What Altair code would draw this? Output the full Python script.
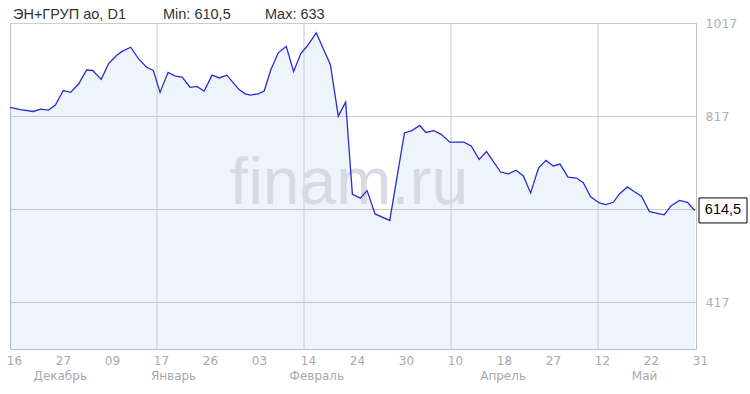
import altair as alt
import pandas as pd

# trading-day position (axis units) and closing price
day = [0, 1.7, 3.8, 5.0, 6.3, 7.4, 8.7, 9.9, 11.2, 12.5,
       13.5, 14.9, 16.1, 17.4, 18.3, 19.7, 21.0, 22.3, 23.4, 24.5,
       25.8, 27.0, 28.1, 29.4, 30.5, 31.7, 33.0, 34.2, 35.4, 36.5,
       37.4, 38.4, 39.2, 40.5, 41.5, 42.6, 43.8, 45.1, 46.3, 47.5,
       48.5, 50.0, 51.2, 52.3, 53.6, 54.8, 55.9, 57.2, 58.3, 59.6,
       62.0, 64.4, 65.6, 66.9, 67.9, 69.2, 70.4, 71.8, 74.1, 75.3,
       76.6, 77.8, 80.1, 81.4, 82.6, 83.8, 85.0, 86.3, 87.5, 88.7,
       89.8, 91.1, 92.5, 93.6, 94.8, 96.3, 97.3, 98.5, 99.5, 100.8,
       102.0, 103.1, 104.4, 106.8, 107.9, 109.3, 110.6, 111.8]
price = [836, 831, 827, 832, 830, 841, 872, 868, 886, 916,
         915, 896, 930, 947, 956, 965, 940, 922, 915, 868,
         911, 903, 901, 879, 881, 871, 905, 899, 905, 888,
         874, 865, 862, 865, 871, 917, 953, 967, 913, 952,
         967, 996, 960, 928, 817, 847, 649, 641, 657, 607,
         593, 781, 786, 797, 782, 786, 778, 761, 761, 753,
         724, 741, 697, 693, 701, 689, 652, 706, 722, 710,
         714, 686, 684, 674, 644, 630, 627, 632, 650, 665,
         654, 645, 612, 605, 624, 636, 632, 614.5]

tick_days = [0, 8, 16, 24, 32, 40, 48, 56, 64, 72, 80, 88, 96, 104, 112]
tick_labels = ["16", "27", "09", "17", "26", "03", "14", "24", "30",
               "10", "18", "27", "12", "22", "31"]
grid_days = [24, 48, 72, 96]
months = ["Декабрь", "Январь", "Февраль", "Апрель", "Май"]
month_pos = [8.2, 26.7, 50.1, 80.5, 103.6]
y_ticks = [417, 617, 817, 1017]
title_name = "ЭН+ГРУП ао, D1"
title_min = "Min: 610,5"
title_max = "Max: 633"
last_label = "614,5"

df = pd.DataFrame({"day": day, "price": price})
grid_df = pd.DataFrame({"day": grid_days})
month_df = pd.DataFrame({"name": months, "pos": month_pos})
last_df = pd.DataFrame({"price": [price[-1]], "label": [last_label]})

label_map = "[" + ",".join("'%s'" % t for t in tick_labels) + "]"

x_scale = alt.Scale(domain=[0, 112], nice=False, zero=False)
y_scale = alt.Scale(domain=[317, 1017], nice=False, zero=False)

x_enc = alt.X("day:Q", scale=x_scale, title=None,
              axis=alt.Axis(values=tick_days,
                            labelExpr=label_map + "[round(datum.value/8)]",
                            grid=False, ticks=False, domain=False,
                            labelFont="DejaVu Sans", labelFontSize=12,
                            labelColor="#a9a9a9", labelPadding=6,
                            labelFlush=False, labelOffset=4,
                            labelOverlap=False, labelBound=False))
y_enc = alt.Y("price:Q", scale=y_scale, title=None,
              axis=alt.Axis(orient="right", values=y_ticks,
                            labelExpr="datum.value == 617 ? '' : datum.label",
                            format="d", grid=True, gridColor="#cdcdcd",
                            ticks=False, domain=False,
                            labelFont="DejaVu Sans", labelFontSize=12.5,
                            labelColor="#b0b0b0", labelPadding=9,
                            labelAlign="left", labelBaseline="middle"))

base = alt.Chart(df)

area = base.mark_area(color="#4a90e2", opacity=0.1).encode(
    x=x_enc, y=y_enc, y2=alt.datum(317))

grid = alt.Chart(grid_df).mark_rule(color="#c8c8c8", strokeWidth=1).encode(
    x=alt.X("day:Q", scale=x_scale))

watermark = alt.Chart(pd.DataFrame({"t": ["finam.ru"]})).mark_text(
    font="Liberation Sans", fontSize=66, color="#d6dbe2",
    align="center", baseline="alphabetic").encode(
    text="t:N", x=alt.value(339), y=alt.value(181))

line = base.mark_line(color="#2b2bd2", strokeWidth=1.3).encode(
    x=alt.X("day:Q", scale=x_scale), y=alt.Y("price:Q", scale=y_scale))

month_text = alt.Chart(month_df).mark_text(
    font="DejaVu Sans", fontSize=12, color="#a9a9a9",
    align="center", baseline="alphabetic").encode(
    x=alt.X("pos:Q", scale=x_scale), y=alt.value(357), text="name:N")


def title_text(s, xpos):
    return alt.Chart(pd.DataFrame({"t": [s]})).mark_text(
        font="Liberation Sans", fontSize=14.5, color="#333333",
        align="left", baseline="alphabetic").encode(
        text="t:N", x=alt.value(xpos), y=alt.value(-3.7))


box = alt.Chart(last_df).mark_rect(
    fill="white", stroke="black", strokeWidth=1,
    yOffset=-12.5, y2Offset=12.5).encode(
    x=alt.value(689), x2=alt.value(737),
    y=alt.Y("price:Q", scale=y_scale), y2="price:Q")

box_text = alt.Chart(last_df).mark_text(
    font="Liberation Sans", fontSize=14.5, color="black",
    align="center", baseline="middle").encode(
    x=alt.value(713), y=alt.Y("price:Q", scale=y_scale), text="label:N")

chart = alt.layer(
    area, grid, watermark, line, month_text,
    title_text(title_name, 3), title_text(title_min, 153),
    title_text(title_max, 255), box, box_text
).properties(
    width=686, height=326,
    autosize=alt.AutoSizeParams(type="none"),
    padding={"left": 10, "top": 23, "right": 54, "bottom": 45},
    background="white"
).configure_view(stroke="#bdbdbd", strokeWidth=1)

chart.save("out.html", embed_options={"renderer": "svg", "actions": False})
